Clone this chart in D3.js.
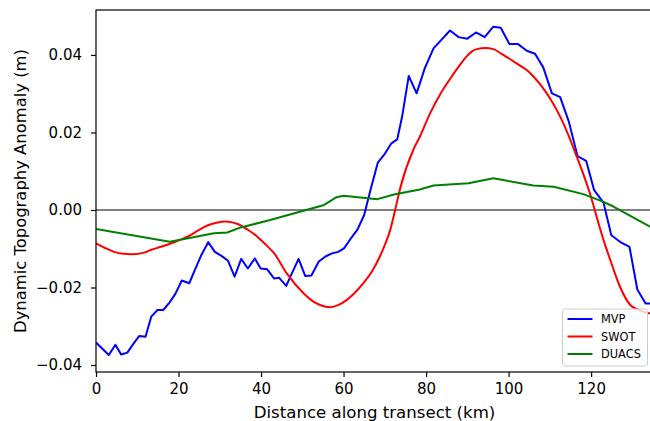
<!DOCTYPE html>
<html>
<head>
<meta charset="utf-8">
<script src="https://cdn.jsdelivr.net/npm/d3@7"></script>
<style>
  body { margin: 0; background: #fff; }
  svg { display: block; font-family: "DejaVu Sans", sans-serif; }
</style>
</head>
<body>
<svg width="650" height="421"></svg>
<script>
// MVP transect (km, m)
var mvpKm = [0, 3.1, 4.7, 6.1, 7.6, 9.0, 10.5, 12.0, 13.4, 14.9, 16.3, 17.8, 19.2, 20.8, 22.6, 24.1, 25.5, 27.2, 28.8, 30.5,
  32.0, 33.6, 35.2, 36.8, 38.5, 39.9, 41.5, 43.2, 44.4, 46.1, 47.5, 49.1, 50.7, 52.2, 54.0, 55.6, 57.2, 58.7, 60.1, 61.6,
  63.4, 65.0, 66.6, 68.3, 70.0, 71.6, 73.0, 74.2, 75.8, 77.7, 79.7, 81.8, 83.7, 85.8, 87.9, 90.0, 92.1, 94.2, 96.3, 98.1,
  100.2, 102.3, 104.4, 106.4, 108.4, 110.5, 112.5, 114.6, 116.7, 118.8, 120.7, 123.0, 124.9, 127.0, 129.3, 131.2, 133.2, 135.0];
var mvpVal = [-0.0342, -0.0374, -0.0348, -0.0373, -0.0368, -0.0346, -0.0325, -0.0327, -0.0275, -0.0258, -0.0258, -0.0239,
  -0.0217, -0.0182, -0.0189, -0.0151, -0.0117, -0.0083, -0.0108, -0.0119, -0.0131, -0.0172, -0.0126, -0.0151, -0.0125,
  -0.0151, -0.0153, -0.0177, -0.0175, -0.0196, -0.0163, -0.0126, -0.0170, -0.0169, -0.0133, -0.0120, -0.0112, -0.0108,
  -0.0099, -0.0076, -0.0050, -0.0013, 0.0055, 0.0122, 0.0145, 0.0172, 0.0182, 0.0241, 0.0346, 0.0301, 0.0366, 0.0417,
  0.0439, 0.0463, 0.0446, 0.0442, 0.0458, 0.0446, 0.0473, 0.0470, 0.0428, 0.0428, 0.0411, 0.0403, 0.0368, 0.0301,
  0.0291, 0.0228, 0.0139, 0.0127, 0.0052, 0.0019, -0.0065, -0.0082, -0.0095, -0.0205, -0.0241, -0.0241];

// SWOT
var swotKm = [0, 2.2, 4.4, 6.6, 8.8, 11.6, 13.6, 15.7, 19.3, 22.9, 25.0, 27.0, 29.2, 31.4, 33.0, 34.3, 36.8, 39.1, 41.2,
  43.2, 46.2, 50.3, 52.5, 54.3, 56.7, 58.8, 60.8, 62.8, 64.8, 66.8, 68.8, 70.0, 71.3, 72.5, 73.7, 76.9, 78.4, 81.0, 83.5,
  85.8, 87.9, 89.9, 91.2, 92.3, 94.3, 96.3, 98.0, 100.4, 102.4, 104.4, 106.4, 108.4, 110.5, 112.5, 114.5, 116.5, 118.2,
  119.8, 121.4, 123.0, 125.0, 127.0, 129.5, 131.1, 133.0, 135.0];
var swotVal = [-0.0086, -0.0098, -0.0108, -0.0113, -0.0114, -0.0110, -0.0102, -0.0095, -0.0082, -0.0065, -0.0051, -0.0040,
  -0.0033, -0.0030, -0.0032, -0.0036, -0.0051, -0.0069, -0.0090, -0.0112, -0.0163, -0.0215, -0.0235, -0.0245, -0.0251,
  -0.0245, -0.0232, -0.0213, -0.0189, -0.0160, -0.0120, -0.0090, -0.0052, 0.0000, 0.0055, 0.0155, 0.0187, 0.0250, 0.0300,
  0.0338, 0.0370, 0.0397, 0.0410, 0.0415, 0.0418, 0.0415, 0.0405, 0.0389, 0.0375, 0.0361, 0.0340, 0.0314, 0.0280, 0.0241,
  0.0193, 0.0138, 0.0090, 0.0040, -0.0020, -0.0077, -0.0140, -0.0198, -0.0245, -0.0256, -0.0264, -0.0268];

// DUACS
var duacsKm = [0, 17.9, 28.6, 31.8, 35.1, 42.2, 55.3, 58.3, 60.0, 68.2, 72.2, 78.5, 81.8, 90.3, 96.3, 106.0, 110.9, 118.1,
  123.0, 125.4, 135.0];
var duacsVal = [-0.0049, -0.0082, -0.0060, -0.0058, -0.0045, -0.0026, 0.0013, 0.0033, 0.0037, 0.0028, 0.0040, 0.0053,
  0.0063, 0.0069, 0.0082, 0.0063, 0.0060, 0.0041, 0.0021, 0.0009, -0.0047];

var xTicks = [0, 20, 40, 60, 80, 100, 120];
var yTicks = [-0.04, -0.02, 0.00, 0.02, 0.04];
var seriesNames = ['MVP', 'SWOT', 'DUACS'];
var seriesColors = ['#0000ff', '#ff0000', '#008000'];

var svg = d3.select('svg');
var plotLeft = 96, plotRight = 653, plotTop = 10, plotBottom = 372;

var x = d3.scaleLinear().domain([0, 135]).range([plotLeft, plotRight]);
var y = d3.scaleLinear().domain([-0.0418, 0.0516]).range([plotBottom, plotTop]);

svg.append('clipPath').attr('id', 'plot')
  .append('rect').attr('x', plotLeft).attr('y', plotTop)
  .attr('width', plotRight - plotLeft).attr('height', plotBottom - plotTop);

// zero line
svg.append('line')
  .attr('x1', plotLeft).attr('x2', plotRight)
  .attr('y1', y(0)).attr('y2', y(0))
  .attr('stroke', '#808080').attr('stroke-width', 2.2);

function pairs(k, v) {
  return k.map(function (d, i) { return [d, v[i]]; });
}
var series = [pairs(mvpKm, mvpVal), pairs(swotKm, swotVal), pairs(duacsKm, duacsVal)];

var lineG = svg.append('g').attr('clip-path', 'url(#plot)');
series.forEach(function (s, i) {
  var gen = d3.line().x(function (d) { return x(d[0]); }).y(function (d) { return y(d[1]); });
  if (i === 1) gen.curve(d3.curveMonotoneX);
  lineG.append('path')
    .attr('d', gen(s))
    .attr('fill', 'none')
    .attr('stroke', seriesColors[i])
    .attr('stroke-width', 2)
    .attr('stroke-linejoin', 'round');
});

// axes
var xAxis = svg.append('g')
  .attr('transform', 'translate(0,' + plotBottom + ')')
  .call(d3.axisBottom(x).tickValues(xTicks).tickFormat(d3.format('d')).tickSize(5).tickSizeOuter(0).tickPadding(6));
var yAxis = svg.append('g')
  .attr('transform', 'translate(' + plotLeft + ',0)')
  .call(d3.axisLeft(y).tickValues(yTicks).tickFormat(d3.format('.2f')).tickSize(5).tickSizeOuter(0).tickPadding(9));
[xAxis, yAxis].forEach(function (a) {
  a.selectAll('text').attr('font-size', 15).attr('fill', '#000').attr('font-family', '"DejaVu Sans", sans-serif');
  a.selectAll('line').attr('stroke', '#000').attr('stroke-width', 1.2);
  a.select('.domain').remove();
});

// frame
svg.append('rect')
  .attr('x', plotLeft).attr('y', plotTop)
  .attr('width', plotRight - plotLeft).attr('height', plotBottom - plotTop)
  .attr('fill', 'none').attr('stroke', '#000').attr('stroke-width', 1.2);

// labels
svg.append('text')
  .attr('x', (plotLeft + plotRight) / 2).attr('y', 418)
  .attr('text-anchor', 'middle').attr('font-size', 16.6)
  .text('Distance along transect (km)');
svg.append('text')
  .attr('transform', 'translate(20,' + (plotTop + plotBottom) / 2 + ') rotate(-90)')
  .attr('text-anchor', 'middle').attr('dominant-baseline', 'central').attr('font-size', 16.4)
  .text('Dynamic Topography Anomaly (m)');

// legend
var legend = svg.append('g').attr('transform', 'translate(562.5,309)');
legend.append('rect')
  .attr('width', 85).attr('height', 57).attr('rx', 3)
  .attr('fill', '#fff').attr('fill-opacity', 0.8)
  .attr('stroke', '#cccccc').attr('stroke-width', 1);
seriesNames.forEach(function (name, i) {
  var ry = 10 + i * 17.5;
  legend.append('line')
    .attr('x1', 5).attr('x2', 30).attr('y1', ry).attr('y2', ry)
    .attr('stroke', seriesColors[i]).attr('stroke-width', 2);
  legend.append('text')
    .attr('x', 38.5).attr('y', ry)
    .attr('dominant-baseline', 'central').attr('font-size', 11.4)
    .text(name);
});
</script>
</body>
</html>
